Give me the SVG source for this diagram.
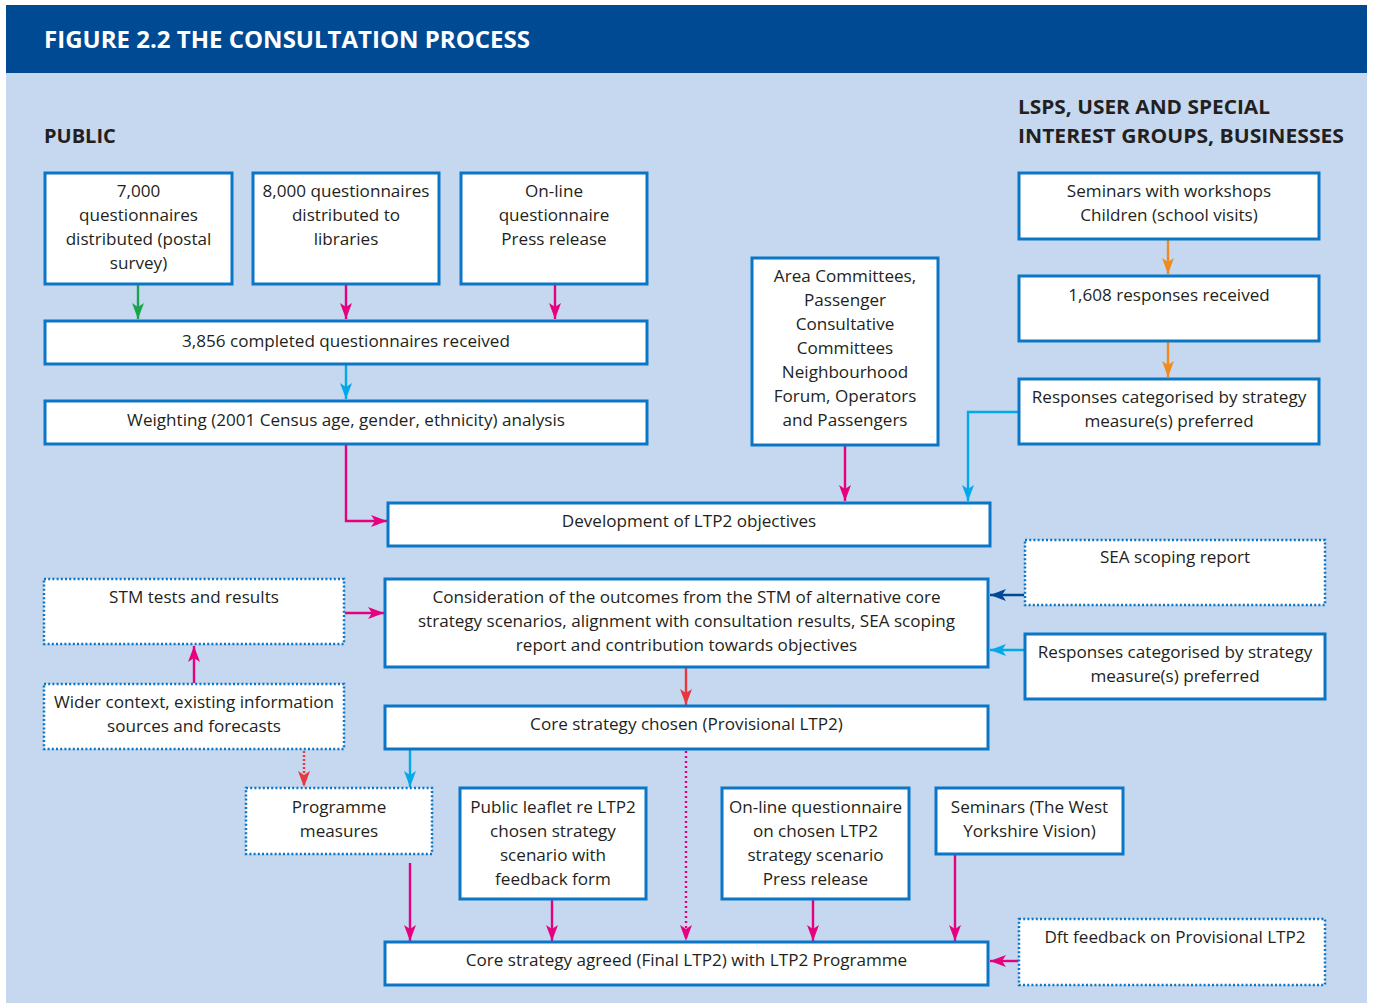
<svg xmlns="http://www.w3.org/2000/svg" width="1373" height="1003" viewBox="0 0 1373 1003">
<style>
.bx{fill:#fff;stroke:#0b76c5;stroke-width:3}
.dt{fill:#fff;stroke:#0b76c5;stroke-width:2.5;stroke-dasharray:2 2.2}
.t{font-family:"Open Sans","Liberation Sans",sans-serif;font-size:17.1px;fill:#231f20;text-anchor:middle}
.h{font-family:"Open Sans","Liberation Sans",sans-serif;font-size:20px;font-weight:bold;fill:#231f20}
.c{fill:none;stroke-width:2.4}
</style>
<defs>
<marker id="mM" viewBox="0 0 16 12" refX="16" refY="6" markerWidth="16" markerHeight="12" markerUnits="userSpaceOnUse" orient="auto"><path d="M0,0 L16,6 L0,12 L4,6 z" fill="#e6007e"/></marker>
<marker id="mC" viewBox="0 0 16 12" refX="16" refY="6" markerWidth="16" markerHeight="12" markerUnits="userSpaceOnUse" orient="auto"><path d="M0,0 L16,6 L0,12 L4,6 z" fill="#00a9e8"/></marker>
<marker id="mG" viewBox="0 0 16 12" refX="16" refY="6" markerWidth="16" markerHeight="12" markerUnits="userSpaceOnUse" orient="auto"><path d="M0,0 L16,6 L0,12 L4,6 z" fill="#1aa54a"/></marker>
<marker id="mO" viewBox="0 0 16 12" refX="16" refY="6" markerWidth="16" markerHeight="12" markerUnits="userSpaceOnUse" orient="auto"><path d="M0,0 L16,6 L0,12 L4,6 z" fill="#f18a1e"/></marker>
<marker id="mB" viewBox="0 0 16 12" refX="16" refY="6" markerWidth="16" markerHeight="12" markerUnits="userSpaceOnUse" orient="auto"><path d="M0,0 L16,6 L0,12 L4,6 z" fill="#004a93"/></marker>
<marker id="mR" viewBox="0 0 16 12" refX="16" refY="6" markerWidth="16" markerHeight="12" markerUnits="userSpaceOnUse" orient="auto"><path d="M0,0 L16,6 L0,12 L4,6 z" fill="#e8383d"/></marker>
</defs>
<rect x="0" y="0" width="1373" height="1003" fill="#fff"/>
<rect x="6" y="5" width="1361" height="998" fill="#c5d8ef"/>
<rect x="6" y="5" width="1361" height="68" fill="#004a93"/>
<text x="44" y="48" font-family="Open Sans, Liberation Sans, sans-serif" font-size="24" font-weight="bold" fill="#fff" textLength="486" lengthAdjust="spacingAndGlyphs">FIGURE 2.2 THE CONSULTATION PROCESS</text>
<text class="h" x="44" y="143">PUBLIC</text>
<text class="h" x="1018" y="114" textLength="252" lengthAdjust="spacingAndGlyphs">LSPS, USER AND SPECIAL</text>
<text class="h" x="1018" y="143" textLength="326" lengthAdjust="spacingAndGlyphs">INTEREST GROUPS, BUSINESSES</text>

<g id="connectors">
<path class="c" stroke="#1aa54a" d="M138,285 V319" marker-end="url(#mG)"/>
<path class="c" stroke="#e6007e" d="M346,285 V319" marker-end="url(#mM)"/>
<path class="c" stroke="#e6007e" d="M555,285 V319" marker-end="url(#mM)"/>
<path class="c" stroke="#00a9e8" d="M346,365 V399" marker-end="url(#mC)"/>
<path class="c" stroke="#e6007e" d="M346,445 V521 H387" marker-end="url(#mM)"/>
<path class="c" stroke="#e6007e" d="M845,446 V501" marker-end="url(#mM)"/>
<path class="c" stroke="#00a9e8" d="M1018,412 H968 V501" marker-end="url(#mC)"/>
<path class="c" stroke="#f18a1e" d="M1168,240 V274" marker-end="url(#mO)"/>
<path class="c" stroke="#f18a1e" d="M1168,342 V377" marker-end="url(#mO)"/>
<path class="c" stroke="#004a93" d="M1024,595 H990" marker-end="url(#mB)"/>
<path class="c" stroke="#00a9e8" d="M1024,650 H990" marker-end="url(#mC)"/>
<path class="c" stroke="#e6007e" d="M345,613 H384" marker-end="url(#mM)"/>
<path class="c" stroke="#e6007e" d="M194,683 V646" marker-end="url(#mM)"/>
<path class="c" stroke="#e8383d" d="M304,751 V787" stroke-dasharray="2 2" marker-end="url(#mR)"/>
<path class="c" stroke="#e8383d" d="M686,668 V705" marker-end="url(#mR)"/>
<path class="c" stroke="#00a9e8" d="M410,750 V787" marker-end="url(#mC)"/>
<path class="c" stroke="#e6007e" d="M686,751 V941" stroke-width="1.6" stroke-dasharray="2 3" marker-end="url(#mM)"/>
<path class="c" stroke="#e6007e" d="M410,863 V941" marker-end="url(#mM)"/>
<path class="c" stroke="#e6007e" d="M552,900 V941" marker-end="url(#mM)"/>
<path class="c" stroke="#e6007e" d="M813,900 V941" marker-end="url(#mM)"/>
<path class="c" stroke="#e6007e" d="M955,855 V941" marker-end="url(#mM)"/>
<path class="c" stroke="#e6007e" d="M1018,961 H990" marker-end="url(#mM)"/>
</g>

<g id="n1"><rect class="bx" x="45" y="173" width="187" height="111"/><text class="t" x="138.5"><tspan x="138.5" y="197">7,000</tspan><tspan x="138.5" y="221">questionnaires</tspan><tspan x="138.5" y="245">distributed (postal</tspan><tspan x="138.5" y="269">survey)</tspan></text></g>
<g id="n2"><rect class="bx" x="253" y="173" width="186" height="111"/><text class="t"><tspan x="346" y="197">8,000 questionnaires</tspan><tspan x="346" y="221">distributed to</tspan><tspan x="346" y="245">libraries</tspan></text></g>
<g id="n3"><rect class="bx" x="461" y="173" width="186" height="111"/><text class="t"><tspan x="554" y="197">On-line</tspan><tspan x="554" y="221">questionnaire</tspan><tspan x="554" y="245">Press release</tspan></text></g>
<g id="n4"><rect class="bx" x="45" y="321" width="602" height="43"/><text class="t" x="346" y="347">3,856 completed questionnaires received</text></g>
<g id="n5"><rect class="bx" x="45" y="401" width="602" height="43"/><text class="t" x="346" y="426">Weighting (2001 Census age, gender, ethnicity) analysis</text></g>
<g id="n6"><rect class="bx" x="752" y="258" width="186" height="187"/><text class="t"><tspan x="845" y="282">Area Committees,</tspan><tspan x="845" y="306">Passenger</tspan><tspan x="845" y="330">Consultative</tspan><tspan x="845" y="354">Committees</tspan><tspan x="845" y="378">Neighbourhood</tspan><tspan x="845" y="402">Forum, Operators</tspan><tspan x="845" y="426">and Passengers</tspan></text></g>
<g id="n7"><rect class="bx" x="1019" y="173" width="300" height="66"/><text class="t"><tspan x="1169" y="197">Seminars with workshops</tspan><tspan x="1169" y="221">Children (school visits)</tspan></text></g>
<g id="n8"><rect class="bx" x="1019" y="276" width="300" height="65"/><text class="t" x="1169" y="301">1,608 responses received</text></g>
<g id="n9"><rect class="bx" x="1019" y="379" width="300" height="65"/><text class="t"><tspan x="1169" y="403">Responses categorised by strategy</tspan><tspan x="1169" y="427">measure(s) preferred</tspan></text></g>
<g id="n10"><rect class="bx" x="388" y="503" width="602" height="43"/><text class="t" x="689" y="527">Development of LTP2 objectives</text></g>
<g id="n11"><rect class="dt" x="1025" y="540" width="300" height="65"/><text class="t" x="1175" y="563">SEA scoping report</text></g>
<g id="n12"><rect class="dt" x="44" y="579" width="300" height="65"/><text class="t" x="194" y="603">STM tests and results</text></g>
<g id="n13"><rect class="bx" x="385" y="579" width="603" height="88"/><text class="t"><tspan x="686.5" y="603">Consideration of the outcomes from the STM of alternative core</tspan><tspan x="686.5" y="627">strategy scenarios, alignment with consultation results, SEA scoping</tspan><tspan x="686.5" y="651">report and contribution towards objectives</tspan></text></g>
<g id="n14"><rect class="bx" x="1025" y="634" width="300" height="65"/><text class="t"><tspan x="1175" y="658">Responses categorised by strategy</tspan><tspan x="1175" y="682">measure(s) preferred</tspan></text></g>
<g id="n15"><rect class="dt" x="44" y="684" width="300" height="65"/><text class="t"><tspan x="194" y="708">Wider context, existing information</tspan><tspan x="194" y="732">sources and forecasts</tspan></text></g>
<g id="n16"><rect class="bx" x="385" y="706" width="603" height="43"/><text class="t" x="686.5" y="730">Core strategy chosen (Provisional LTP2)</text></g>
<g id="n17"><rect class="dt" x="246" y="788" width="186" height="66"/><text class="t"><tspan x="339" y="813">Programme</tspan><tspan x="339" y="837">measures</tspan></text></g>
<g id="n18"><rect class="bx" x="460" y="788" width="186" height="111"/><text class="t"><tspan x="553" y="813">Public leaflet re LTP2</tspan><tspan x="553" y="837">chosen strategy</tspan><tspan x="553" y="861">scenario with</tspan><tspan x="553" y="885">feedback form</tspan></text></g>
<g id="n19"><rect class="bx" x="722" y="788" width="187" height="111"/><text class="t"><tspan x="815.5" y="813">On-line questionnaire</tspan><tspan x="815.5" y="837">on chosen LTP2</tspan><tspan x="815.5" y="861">strategy scenario</tspan><tspan x="815.5" y="885">Press release</tspan></text></g>
<g id="n20"><rect class="bx" x="936" y="788" width="187" height="66"/><text class="t"><tspan x="1029.5" y="813">Seminars (The West</tspan><tspan x="1029.5" y="837">Yorkshire Vision)</tspan></text></g>
<g id="n21"><rect class="dt" x="1019" y="919" width="306" height="66"/><text class="t" x="1175" y="943">Dft feedback on Provisional LTP2</text></g>
<g id="n22"><rect class="bx" x="385" y="942" width="603" height="43"/><text class="t" x="686.5" y="966">Core strategy agreed (Final LTP2) with LTP2 Programme</text></g>
</svg>
